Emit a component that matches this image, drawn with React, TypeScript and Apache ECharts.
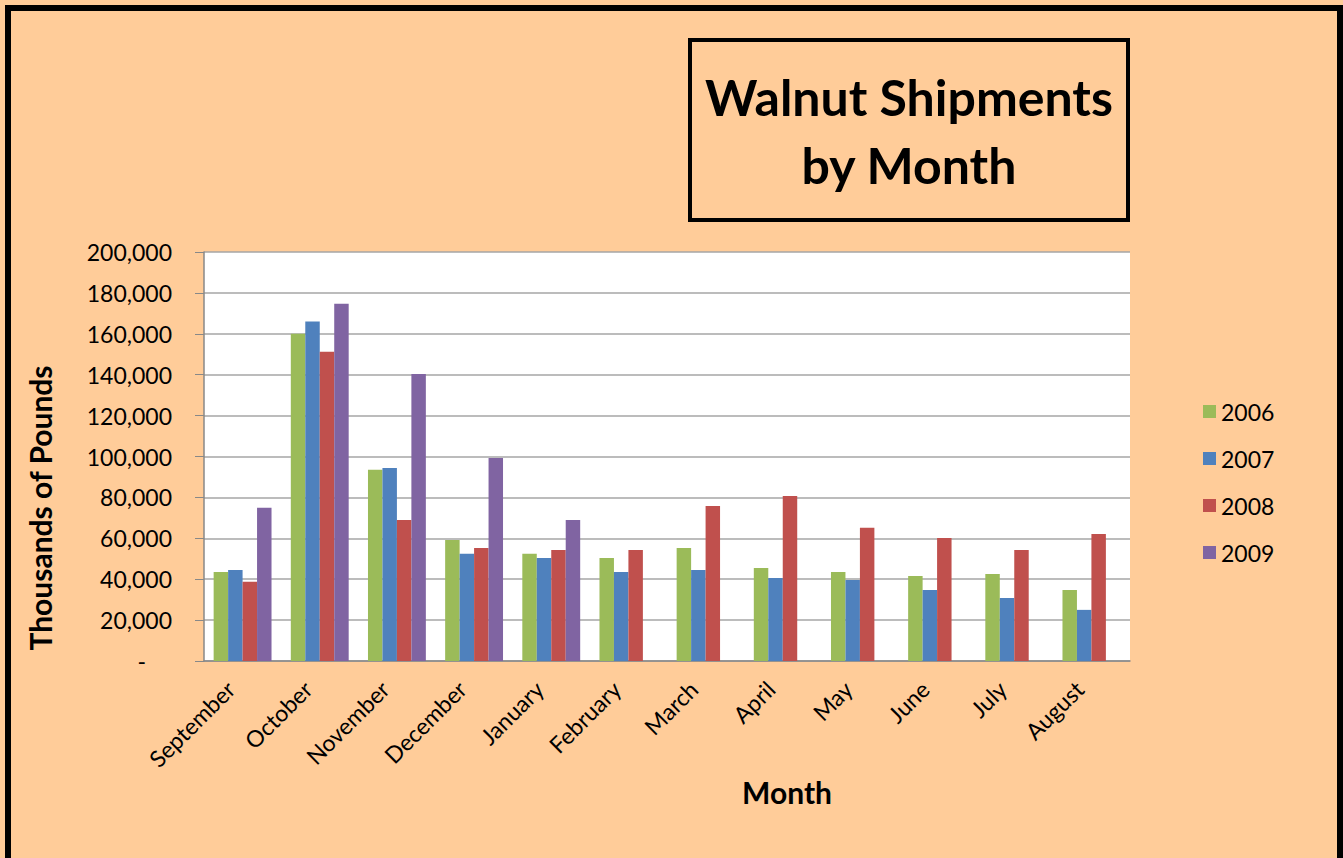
import React, { useEffect, useRef } from "react";
import * as echarts from "echarts";

const months = ["September", "October", "November", "December", "January", "February", "March", "April", "May", "June", "July", "August"];
const s2006 = [43500, 160000, 93500, 59200, 52400, 50400, 55300, 45500, 43500, 41600, 42600, 34700];
const s2007 = [44500, 166000, 94400, 52400, 50400, 43500, 44500, 40600, 39600, 34700, 30800, 25000];
const s2008 = [38700, 151200, 69000, 55300, 54300, 54300, 75800, 80700, 65100, 60200, 54300, 62100];
const s2009: (number | null)[] = [74900, 174700, 140400, 99300, 69000, null, null, null, null, null, null, null];
const seriesNames = ["2006", "2007", "2008", "2009"];
const colors = ["#9BBB59", "#4F81BD", "#C0504D", "#8064A2"];

const FONT = "Lato, 'Open Sans', sans-serif";

export default function App() {
  const ref = useRef<HTMLDivElement>(null);
  useEffect(() => {
    if (!ref.current) return;
    const chart = echarts.init(ref.current, null, { renderer: "svg" });
    const data = [s2006, s2007, s2008, s2009];
    chart.setOption({
      animation: false,
      backgroundColor: "#FFCC99",
      color: colors,
      textStyle: { fontFamily: FONT },
      grid: { left: 204, right: 213, top: 252, bottom: 197, backgroundColor: "#FFFFFF", show: true, borderWidth: 0 },
      legend: {
        orient: "vertical",
        left: 1198,
        top: 395,
        itemWidth: 13,
        itemHeight: 13,
        itemGap: 24,
        icon: "rect",
        textStyle: { fontSize: 23, color: "#000", fontFamily: FONT },
        data: seriesNames,
      },
      xAxis: {
        type: "category",
        data: months,
        axisLine: { lineStyle: { color: "#888888", width: 1.5 } },
        axisTick: { show: false },
        axisLabel: { rotate: 45, interval: 0, fontSize: 23, color: "#000", margin: 12, padding: [0, 17, 0, 0], fontFamily: FONT },
      },
      yAxis: {
        type: "value",
        min: 0,
        max: 200000,
        interval: 20000,
        axisLine: { show: true, lineStyle: { color: "#888888", width: 1.5 } },
        axisTick: { show: true, length: 9, lineStyle: { color: "#888888" } },
        splitLine: { lineStyle: { color: "#A6A6A6", width: 1.5 } },
        axisLabel: {
          fontSize: 23,
          color: "#000",
          margin: 32,
          fontFamily: FONT,
          formatter: (v: number) => (v === 0 ? "{d|-}" : v.toLocaleString("en-US")),
          rich: { d: { fontSize: 23, fontFamily: FONT, color: "#000", padding: [0, 26, 0, 0] } },
        },
      },
      series: seriesNames.map((n, i) => ({
        name: n,
        type: "bar",
        data: data[i],
        barGap: "0%",
        barCategoryGap: "25%",
        itemStyle: { color: colors[i] },
      })),
      graphic: [
        {
          type: "rect",
          shape: { x: 8, y: 8, width: 1332, height: 858 },
          style: { fill: "none", stroke: "#000", lineWidth: 6 },
          silent: true,
        },
        {
          type: "rect",
          shape: { x: 690, y: 40, width: 438, height: 180 },
          style: { fill: "none", stroke: "#000", lineWidth: 4 },
          silent: true,
        },
        {
          type: "text",
          x: 909,
          y: 97,
          style: { text: "Walnut Shipments", font: `bold 50px ${FONT}`, fill: "#000", align: "center", verticalAlign: "middle" },
        },
        {
          type: "text",
          x: 909,
          y: 165,
          style: { text: "by Month", font: `bold 50px ${FONT}`, fill: "#000", align: "center", verticalAlign: "middle" },
        },
        {
          type: "text",
          x: 787,
          y: 792,
          style: { text: "Month", font: `bold 30px ${FONT}`, fill: "#000", align: "center", verticalAlign: "middle" },
        },
        {
          type: "text",
          x: 40,
          y: 508,
          rotation: Math.PI / 2,
          style: { text: "Thousands of Pounds", font: `bold 30px ${FONT}`, fill: "#000", align: "center", verticalAlign: "middle" },
        },
      ],
    });
    return () => chart.dispose();
  }, []);
  return <div ref={ref} style={{ position: "fixed", left: 0, top: 0, width: 1343, height: 858 }} />;
}
